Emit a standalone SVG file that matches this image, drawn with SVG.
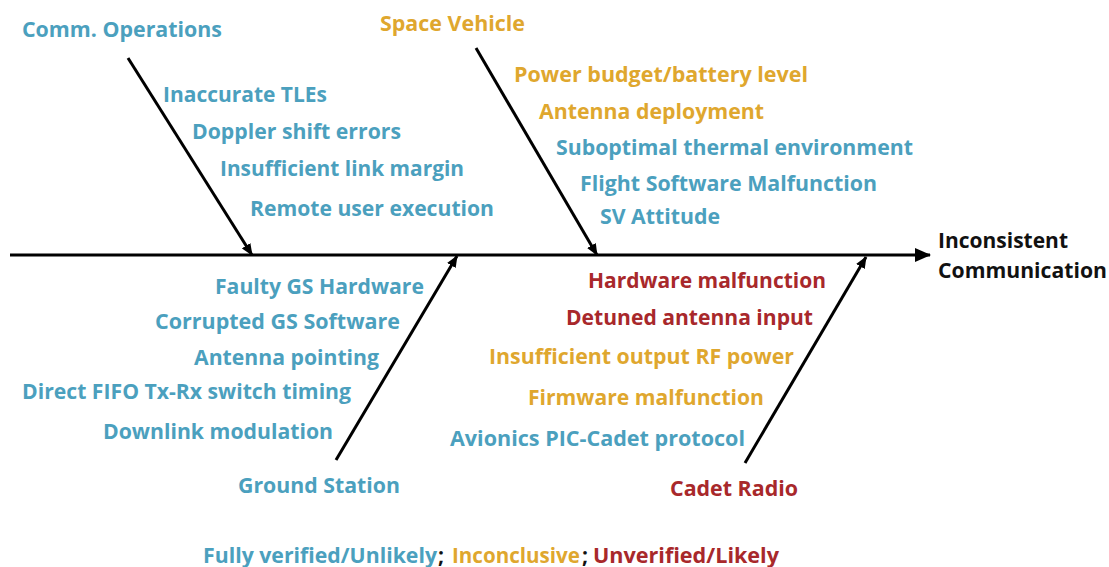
<svg xmlns="http://www.w3.org/2000/svg" width="1109" height="567" viewBox="0 0 1109 567">
<defs>
<marker id="ah" viewBox="0 0 12 10" refX="11" refY="5" markerWidth="12" markerHeight="10" markerUnits="userSpaceOnUse" orient="auto">
<path d="M0,0 L12,5 L0,10 z" fill="#000"/>
</marker>
<marker id="ahBig" viewBox="0 0 16 14" refX="15" refY="7" markerWidth="16" markerHeight="14" markerUnits="userSpaceOnUse" orient="auto">
<path d="M0,0 L16,7 L0,14 z" fill="#000"/>
</marker>
</defs>
<style>
text{font-family:"Open Sans","Noto Sans",sans-serif;font-weight:700;font-size:21px}
.b{fill:#4BA0BE}
.g{fill:#DFA72E}
.r{fill:#A8282B}
.k{fill:#111}
.bone{stroke:#000;stroke-width:3;fill:none}
</style>
<rect width="1109" height="567" fill="#fff"/>
<g id="connectors">
<line class="bone" x1="10" y1="255" x2="930" y2="255" marker-end="url(#ahBig)"/>
<line class="bone" x1="128" y1="58" x2="252" y2="255" marker-end="url(#ah)"/>
<line class="bone" x1="476" y1="48" x2="597" y2="255" marker-end="url(#ah)"/>
<line class="bone" x1="336" y1="460" x2="457" y2="256" marker-end="url(#ah)"/>
<line class="bone" x1="745" y1="463" x2="866" y2="257" marker-end="url(#ah)"/>
</g>
<g id="comm-operations">
<text class="b" x="22" y="37" textLength="200" lengthAdjust="spacingAndGlyphs">Comm. Operations</text>
<text class="b" x="163" y="102" textLength="164" lengthAdjust="spacingAndGlyphs">Inaccurate TLEs</text>
<text class="b" x="192" y="139" textLength="209" lengthAdjust="spacingAndGlyphs">Doppler shift errors</text>
<text class="b" x="220" y="176" textLength="244" lengthAdjust="spacingAndGlyphs">Insufficient link margin</text>
<text class="b" x="250" y="216" textLength="244" lengthAdjust="spacingAndGlyphs">Remote user execution</text>
</g>
<g id="space-vehicle">
<text class="g" x="380" y="31" textLength="145" lengthAdjust="spacingAndGlyphs">Space Vehicle</text>
<text class="g" x="514" y="82" textLength="294" lengthAdjust="spacingAndGlyphs">Power budget/battery level</text>
<text class="g" x="539" y="119" textLength="225" lengthAdjust="spacingAndGlyphs">Antenna deployment</text>
<text class="b" x="556" y="155" textLength="357" lengthAdjust="spacingAndGlyphs">Suboptimal thermal environment</text>
<text class="b" x="580" y="191" textLength="297" lengthAdjust="spacingAndGlyphs">Flight Software Malfunction</text>
<text class="b" x="600" y="224" textLength="120" lengthAdjust="spacingAndGlyphs">SV Attitude</text>
</g>
<g id="effect">
<text class="k" x="938" y="248" textLength="130" lengthAdjust="spacingAndGlyphs">Inconsistent</text>
<text class="k" x="938" y="278" textLength="169" lengthAdjust="spacingAndGlyphs">Communication</text>
</g>
<g id="ground-station">
<text class="b" x="215" y="294" textLength="209" lengthAdjust="spacingAndGlyphs">Faulty GS Hardware</text>
<text class="b" x="155" y="329" textLength="245" lengthAdjust="spacingAndGlyphs">Corrupted GS Software</text>
<text class="b" x="194" y="365" textLength="185" lengthAdjust="spacingAndGlyphs">Antenna pointing</text>
<text class="b" x="22" y="399" textLength="329" lengthAdjust="spacingAndGlyphs">Direct FIFO Tx-Rx switch timing</text>
<text class="b" x="103" y="439" textLength="230" lengthAdjust="spacingAndGlyphs">Downlink modulation</text>
<text class="b" x="238" y="493" textLength="162" lengthAdjust="spacingAndGlyphs">Ground Station</text>
</g>
<g id="cadet-radio">
<text class="r" x="588" y="288" textLength="238" lengthAdjust="spacingAndGlyphs">Hardware malfunction</text>
<text class="r" x="566" y="325" textLength="247" lengthAdjust="spacingAndGlyphs">Detuned antenna input</text>
<text class="g" x="489" y="364" textLength="305" lengthAdjust="spacingAndGlyphs">Insufficient output RF power</text>
<text class="g" x="528" y="405" textLength="236" lengthAdjust="spacingAndGlyphs">Firmware malfunction</text>
<text class="b" x="450" y="446" textLength="295" lengthAdjust="spacingAndGlyphs">Avionics PIC-Cadet protocol</text>
<text class="r" x="670" y="496" textLength="128" lengthAdjust="spacingAndGlyphs">Cadet Radio</text>
</g>
<g id="legend">
<text class="b" x="203" y="563" textLength="234" lengthAdjust="spacingAndGlyphs">Fully verified/Unlikely</text>
<text class="k" x="438" y="563">;</text>
<text class="g" x="452" y="563" textLength="128" lengthAdjust="spacingAndGlyphs">Inconclusive</text>
<text class="k" x="582" y="563">;</text>
<text class="r" x="593" y="563" textLength="186" lengthAdjust="spacingAndGlyphs">Unverified/Likely</text>
</g>
</svg>
